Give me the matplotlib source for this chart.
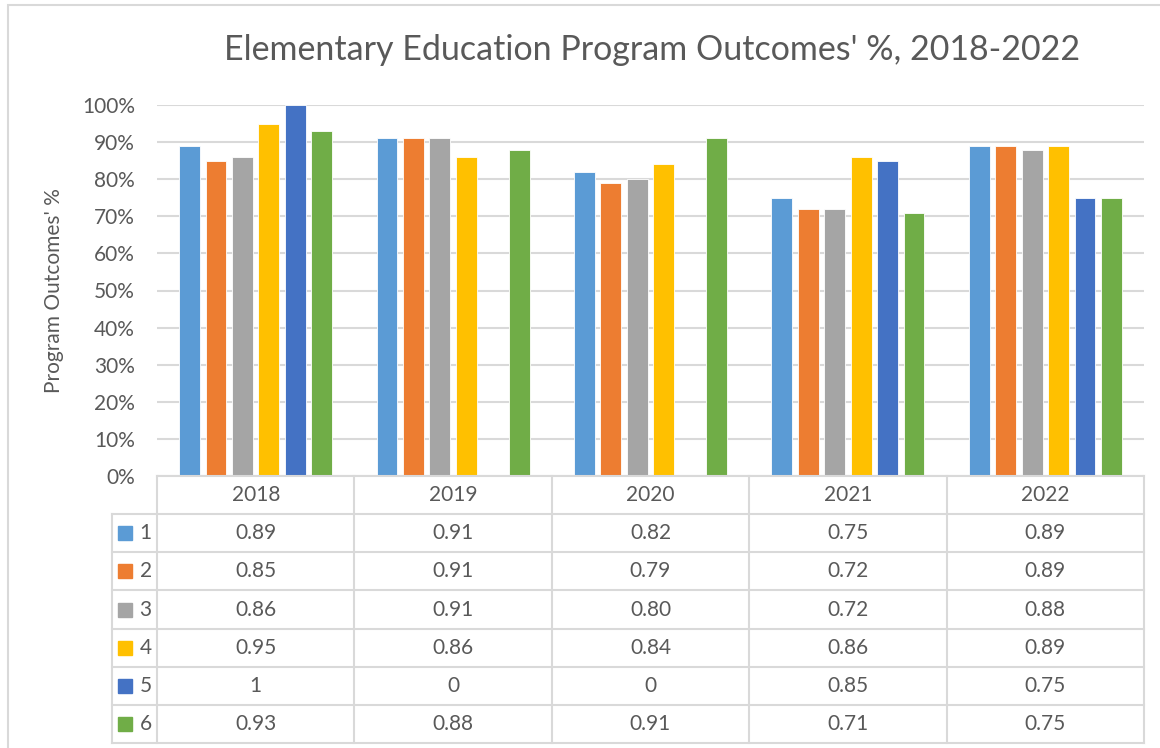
import matplotlib
matplotlib.use("Agg")
import matplotlib.pyplot as plt
from matplotlib.patches import Rectangle

years = ["2018", "2019", "2020", "2021", "2022"]
series_names = ["1", "2", "3", "4", "5", "6"]
s1 = [0.89, 0.91, 0.82, 0.75, 0.89]
s2 = [0.85, 0.91, 0.79, 0.72, 0.89]
s3 = [0.86, 0.91, 0.80, 0.72, 0.88]
s4 = [0.95, 0.86, 0.84, 0.86, 0.89]
s5 = [1, 0, 0, 0.85, 0.75]
s6 = [0.93, 0.88, 0.91, 0.71, 0.75]
series = [s1, s2, s3, s4, s5, s6]
colors = ["#5B9BD5", "#ED7D31", "#A5A5A5", "#FFC000", "#4472C4", "#70AD47"]

TXT = "#595959"
GRID = "#D9D9D9"
FS = 15
plt.rcParams["font.family"] = ["Lato", "DejaVu Sans"]

W, H = 1160, 748
fig = plt.figure(figsize=(W / 100, H / 100), dpi=100)

# outer chart border
fig.patches.append(Rectangle((7.5 / W, -0.05), 1.1, 1 - 5.5 / H + 0.05,
                             transform=fig.transFigure, fill=False,
                             edgecolor=GRID, linewidth=1.5))

left, right = 157 / W, 1144 / W
ax = fig.add_axes([left, 1 - 476 / H, right - left, (476 - 105) / H])

step, bw = 0.134, 0.106
for j, vals in enumerate(series):
    xs = [i + (j - 2.5) * step for i in range(len(years))]
    ax.bar(xs, vals, width=bw, color=colors[j], edgecolor="white",
           linewidth=0.6, zorder=3)

ax.set_xlim(-0.5, len(years) - 0.5)
ax.set_ylim(0, 1)
ax.set_yticks([k / 10 for k in range(11)])
ax.set_yticklabels([f"{k * 10}%" for k in range(11)])
ax.set_xticks([])
ax.grid(axis="y", color=GRID, linewidth=1.5, zorder=0)
for sp in ax.spines.values():
    sp.set_visible(False)
ax.tick_params(axis="y", length=0, pad=16, labelsize=FS, labelcolor=TXT)
ax.set_ylabel("Program Outcomes' %", fontsize=FS, color=TXT, labelpad=13)

fig.text(652 / W, 1 - 50 / H, "Elementary Education Program Outcomes' %, 2018-2022",
         ha="center", va="center", fontsize=24.5, color=TXT)

# data table under the plot
tab = fig.add_axes([left, 1 - 743 / H, right - left, (743 - 476) / H])
tab.set_xlim(-0.5, len(years) - 0.5)
tab.set_ylim(len(series) + 1, 0)
tab.axis("off")
lab_x = -0.5 - (157 - 112) / 197.4
lc = dict(color=GRID, linewidth=1.5, clip_on=False)
tab.plot([-0.5, len(years) - 0.5], [0, 0], **lc)
for r in range(1, len(series) + 2):
    tab.plot([lab_x, len(years) - 0.5], [r, r], **lc)
tab.plot([lab_x, lab_x], [1, len(series) + 1], **lc)
for c in range(len(years) + 1):
    tab.plot([c - 0.5, c - 0.5], [0, len(series) + 1], **lc)

for i, y in enumerate(years):
    tab.text(i, 0.5, y, ha="center", va="center", fontsize=FS, color=TXT)


def fmt(v):
    return str(int(v)) if v in (0, 1) else f"{v:.2f}"


for j, vals in enumerate(series):
    yy = j + 1.5
    tab.plot(lab_x + 0.068, yy, marker="s", markersize=9.5, color=colors[j],
             clip_on=False, linestyle="none")
    tab.text(lab_x + 0.14, yy, series_names[j], ha="left", va="center",
             fontsize=FS, color=TXT)
    for i, v in enumerate(vals):
        tab.text(i, yy, fmt(v), ha="center", va="center", fontsize=FS, color=TXT)

fig.savefig("out.png", dpi=100)
